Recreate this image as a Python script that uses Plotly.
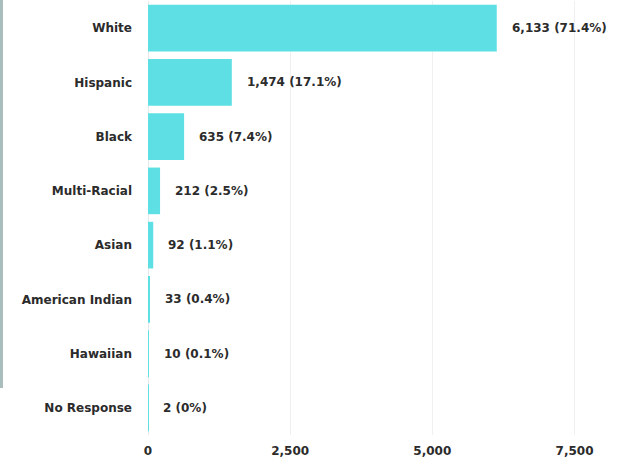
import plotly.graph_objects as go

categories = ["White", "Hispanic", "Black", "Multi-Racial", "Asian",
              "American Indian", "Hawaiian", "No Response"]
counts = [6133, 1474, 635, 212, 92, 33, 10, 2]
percents = ["71.4%", "17.1%", "7.4%", "2.5%", "1.1%", "0.4%", "0.1%", "0%"]
tick_vals = [0, 2500, 5000, 7500]
tick_text = ["0", "2,500", "5,000", "7,500"]

labels = [f"{c:,} ({p})" for c, p in zip(counts, percents)]

W, H = 625, 458
ML, MR, MT, MB = 148, 5, 1, 23
FONT = "DejaVu Sans"
FS = 12
TXT = "#2b2b2b"

fig = go.Figure()
fig.add_trace(go.Bar(
    y=categories, x=counts, orientation="h",
    marker=dict(color="#5EDFE3", line=dict(width=0)),
    hoverinfo="skip",
))

for cat, c, lab in zip(categories, counts, labels):
    fig.add_annotation(x=c, y=cat, text=lab, showarrow=False,
                       xanchor="left", xshift=13,
                       font=dict(family=FONT, size=FS, color=TXT, weight="bold"))

pw = W - ML - MR
ph = H - MT - MB
# gray strip at the left edge
fig.add_shape(type="rect", xref="paper", yref="paper",
              x0=(0 - ML) / pw, x1=(3 - ML) / pw,
              y0=(H - MB - 388) / ph, y1=(H - MB + MT) / ph,
              fillcolor="#A9BDBD", line=dict(width=0), layer="below")

fig.update_layout(
    width=W, height=H,
    margin=dict(l=ML, r=MR, t=MT, b=MB, pad=0),
    paper_bgcolor="white", plot_bgcolor="white",
    bargap=0.14,
    showlegend=False,
    font=dict(family=FONT, size=FS, color=TXT),
    xaxis=dict(range=[0, 8300], tickvals=tick_vals, ticktext=tick_text,
               showgrid=True, gridcolor="#f0f0f0", gridwidth=1,
               zeroline=True, zerolinecolor="#e4eaea", zerolinewidth=1,
               tickfont=dict(family=FONT, size=FS, color=TXT, weight="bold"),
               showline=False, ticks="", ticklabelstandoff=7, fixedrange=True),
    yaxis=dict(autorange="reversed", showgrid=False, zeroline=False,
               tickfont=dict(family=FONT, size=FS, color=TXT, weight="bold"),
               ticks="", ticklabelstandoff=15, fixedrange=True),
)

fig.write_html("out.html", config={"displayModeBar": False},
               post_script="document.body.style.margin='0';")
